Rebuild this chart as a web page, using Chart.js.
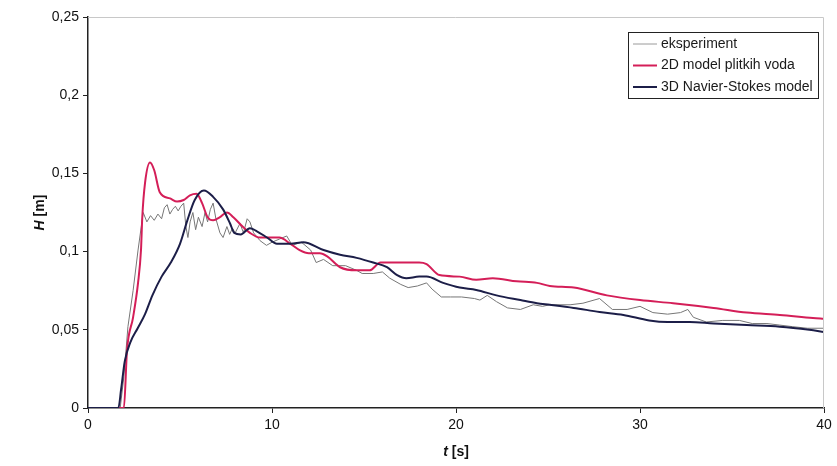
<!DOCTYPE html>
<html>
<head>
<meta charset="utf-8">
<script src="https://cdn.jsdelivr.net/npm/chart.js@4.4.0/dist/chart.umd.min.js"></script>
<style>
  body { margin: 0; background: #fff; }
  canvas { display: block; }
</style>
</head>
<body>
<canvas id="myChart" width="837" height="466"></canvas>
<script>
const seriesLabels = ['eksperiment', '2D model plitkih voda', '3D Navier-Stokes model'];

const expT = [0, 1.75, 1.95, 2.17, 2.45, 2.72, 3.0, 3.2, 3.4, 3.6, 3.8, 4.0, 4.15, 4.3, 4.45, 4.6, 4.75, 4.9, 5.05, 5.2,
  5.32, 5.43, 5.55, 5.7, 5.85, 6.0, 6.2, 6.36, 6.5, 6.65, 6.8, 6.95, 7.17, 7.34, 7.55, 7.7, 7.85, 8.0, 8.26, 8.45,
  8.65, 8.8, 9.0, 9.35, 9.7, 10.0, 10.4, 10.8, 11.1, 11.6, 12.1, 12.4, 12.8, 13.3, 14.0, 14.6, 14.9, 15.5, 16.0, 16.4,
  17.0, 17.4, 17.9, 18.4, 18.7, 19.2, 19.7, 20.3, 21.0, 21.3, 21.7, 22.2, 22.8, 23.5, 24.2, 24.7, 25.1, 26.2, 26.9, 27.8,
  28.5, 29.3, 30.0, 30.7, 31.5, 32.2, 32.6, 32.9, 33.6, 34.5, 35.4, 36.1, 36.9, 37.6, 38.3, 39.1, 40];
const expH = [0, 0, 0.02, 0.052, 0.075, 0.101, 0.125, 0.119, 0.123, 0.120, 0.124, 0.121, 0.128, 0.130, 0.124, 0.127, 0.129, 0.126, 0.129, 0.131,
  0.116, 0.109, 0.119, 0.125, 0.114, 0.122, 0.116, 0.125, 0.119, 0.127, 0.131, 0.121, 0.112, 0.109, 0.116, 0.111, 0.115, 0.112, 0.118, 0.112,
  0.121, 0.119, 0.112, 0.107, 0.104, 0.106, 0.108, 0.110, 0.104, 0.106, 0.101, 0.093, 0.095, 0.091, 0.091, 0.088, 0.086, 0.086, 0.087, 0.083,
  0.079, 0.077, 0.078, 0.080, 0.076, 0.071, 0.071, 0.071, 0.070, 0.069, 0.072, 0.068, 0.064, 0.063, 0.066, 0.065, 0.066, 0.066, 0.067, 0.070,
  0.063, 0.063, 0.065, 0.061, 0.060, 0.061, 0.063, 0.058, 0.055, 0.056, 0.056, 0.054, 0.054, 0.053, 0.052, 0.051, 0.051];

const swT = [0, 1.95, 2.12, 2.45, 2.72, 2.88, 2.95, 3.1, 3.37, 3.6, 3.9, 4.46, 4.84, 5.2, 5.54, 5.9, 6.2, 6.5, 6.8, 7.17,
  7.55, 7.9, 8.4, 8.8, 9.35, 9.9, 10.4, 11.0, 11.5, 12.0, 12.6, 13.0, 13.7, 14.6, 15.3, 15.9, 16.4, 18.0, 18.4, 19.1,
  20.2, 21.1, 22.0, 23.3, 24.4, 25.1, 26.4, 28.2, 30.0, 31.8, 34.0, 35.8, 37.6, 39.4, 40];
const swH = [0, 0, 0.037, 0.058, 0.080, 0.101, 0.122, 0.144, 0.157, 0.152, 0.138, 0.134, 0.132, 0.133, 0.136, 0.137, 0.131, 0.122, 0.120, 0.122,
  0.125, 0.122, 0.116, 0.112, 0.109, 0.109, 0.109, 0.105, 0.101, 0.099, 0.099, 0.097, 0.090, 0.088, 0.088, 0.093, 0.093, 0.093, 0.092, 0.085,
  0.084, 0.082, 0.083, 0.081, 0.080, 0.078, 0.077, 0.072, 0.069, 0.067, 0.064, 0.061, 0.0595, 0.0575, 0.057];

const nsT = [0, 1.65, 1.8, 2.0, 2.3, 2.7, 3.1, 3.5, 4.0, 4.5, 5.0, 5.4, 5.8, 6.3, 6.8, 7.34, 7.72, 7.95, 8.3, 8.8,
  9.18, 9.73, 10.27, 11.0, 11.7, 12.8, 13.7, 14.6, 15.5, 16.25, 16.8, 17.3, 18.0, 18.4, 19.3, 20.2, 21.1, 22.2, 23.5, 24.4,
  25.1, 26.4, 27.8, 29.1, 30.5, 31.5, 32.7, 34.0, 35.8, 37.6, 39.2, 40];
const nsH = [0, 0, 0.012, 0.030, 0.042, 0.051, 0.060, 0.072, 0.084, 0.093, 0.105, 0.120, 0.133, 0.139, 0.135, 0.127, 0.118, 0.112, 0.111, 0.115,
  0.113, 0.109, 0.105, 0.105, 0.106, 0.101, 0.098, 0.096, 0.093, 0.090, 0.085, 0.083, 0.084, 0.084, 0.080, 0.077, 0.0755, 0.072, 0.069, 0.067,
  0.066, 0.064, 0.0614, 0.0595, 0.056, 0.055, 0.055, 0.054, 0.053, 0.052, 0.050, 0.0486];

const xTicks = [0, 10, 20, 30, 40];
const yTicks = [0, 0.05, 0.1, 0.15, 0.2, 0.25];

const FONT = 'Arial, "Liberation Sans", sans-serif';

function toPoints(ts, hs) {
  return ts.map((t, i) => ({ x: t, y: hs[i] }));
}

function commaLabel(v) {
  return String(Math.round(v * 100) / 100).replace('.', ',');
}

// legend box, axis titles and light frame drawn by hand
const extras = {
  id: 'extras',
  afterDraw(chart) {
    const ctx = chart.ctx;
    const area = chart.chartArea;
    ctx.save();

    ctx.strokeStyle = '#c8c8c8';
    ctx.lineWidth = 1;
    ctx.beginPath();
    ctx.moveTo(area.left, area.top + 0.5);
    ctx.lineTo(area.right - 0.5, area.top + 0.5);
    ctx.lineTo(area.right - 0.5, area.bottom);
    ctx.stroke();

    // legend
    const lx = 628, ly = 32, lw = 190, lh = 66;
    ctx.fillStyle = '#fff';
    ctx.fillRect(lx, ly, lw, lh);
    ctx.strokeStyle = '#222';
    ctx.strokeRect(lx + 0.5, ly + 0.5, lw, lh);
    ctx.font = '14px ' + FONT;
    ctx.textBaseline = 'middle';
    chart.data.datasets.forEach((ds, i) => {
      const y = ly + 12 + i * 21.5;
      ctx.strokeStyle = ds.legendColor || ds.borderColor;
      ctx.lineWidth = ds.borderWidth;
      ctx.beginPath();
      ctx.moveTo(lx + 5, y);
      ctx.lineTo(lx + 29, y);
      ctx.stroke();
      ctx.fillStyle = '#1a1a1a';
      ctx.fillText(ds.label, lx + 33, y);
    });

    // axis titles
    ctx.fillStyle = '#111';
    ctx.textBaseline = 'middle';
    const xt1 = 't', xt2 = ' [s]';
    ctx.font = 'italic bold 14px ' + FONT;
    const w1 = ctx.measureText(xt1).width;
    ctx.font = 'bold 14px ' + FONT;
    const w2 = ctx.measureText(xt2).width;
    let sx = (area.left + area.right) / 2 - (w1 + w2) / 2;
    ctx.font = 'italic bold 14px ' + FONT;
    ctx.fillText(xt1, sx, 452);
    ctx.font = 'bold 14px ' + FONT;
    ctx.fillText(xt2, sx + w1, 452);

    ctx.translate(40, (area.top + area.bottom) / 2);
    ctx.rotate(-Math.PI / 2);
    const yt1 = 'H', yt2 = ' [m]';
    ctx.font = 'italic bold 14px ' + FONT;
    const h1 = ctx.measureText(yt1).width;
    ctx.font = 'bold 14px ' + FONT;
    const h2 = ctx.measureText(yt2).width;
    sx = -(h1 + h2) / 2;
    ctx.font = 'italic bold 14px ' + FONT;
    ctx.fillText(yt1, sx, 0);
    ctx.font = 'bold 14px ' + FONT;
    ctx.fillText(yt2, sx + h1, 0);

    ctx.restore();
  }
};

const data = {
  datasets: [{
    label: seriesLabels[0],
    data: toPoints(expT, expH),
    borderColor: '#767676',
    legendColor: '#9a9a9a',
    borderWidth: 1,
    tension: 0,
    order: 3
  }, {
    label: seriesLabels[1],
    data: toPoints(swT, swH),
    borderColor: 'rgb(212, 30, 88)',
    borderWidth: 2,
    cubicInterpolationMode: 'monotone',
    order: 2
  }, {
    label: seriesLabels[2],
    data: toPoints(nsT, nsH),
    borderColor: 'rgb(28, 30, 72)',
    borderWidth: 2,
    cubicInterpolationMode: 'monotone',
    order: 1
  }]
};

const config = {
  type: 'line',
  data: data,
  options: {
    responsive: false,
    animation: false,
    layout: { padding: { left: 0, top: 17, right: 13, bottom: 0 } },
    elements: { point: { radius: 0 } },
    plugins: { legend: { display: false }, tooltip: { enabled: false } },
    scales: {
      x: {
        type: 'linear',
        min: 0,
        max: 40,
        afterFit: (axis) => { axis.height = 58; },
        afterBuildTicks: (axis) => { axis.ticks = xTicks.map(v => ({ value: v })); },
        ticks: { color: '#111', font: { size: 14, family: FONT }, padding: 4 },
        grid: { drawOnChartArea: false, drawTicks: true, tickLength: 5, color: '#222' },
        border: { display: true, color: '#222', width: 1.5 }
      },
      y: {
        min: 0,
        max: 0.25,
        afterFit: (axis) => { axis.width = 88; },
        afterBuildTicks: (axis) => { axis.ticks = yTicks.map(v => ({ value: v })); },
        ticks: { color: '#111', font: { size: 14, family: FONT }, padding: 4, callback: (v) => commaLabel(v) },
        grid: { drawOnChartArea: false, drawTicks: true, tickLength: 5, color: '#222' },
        border: { display: true, color: '#222', width: 1.5 }
      }
    }
  },
  plugins: [extras]
};

const myChart = new Chart(
  document.getElementById('myChart'),
  config
);
</script>
</body>
</html>
